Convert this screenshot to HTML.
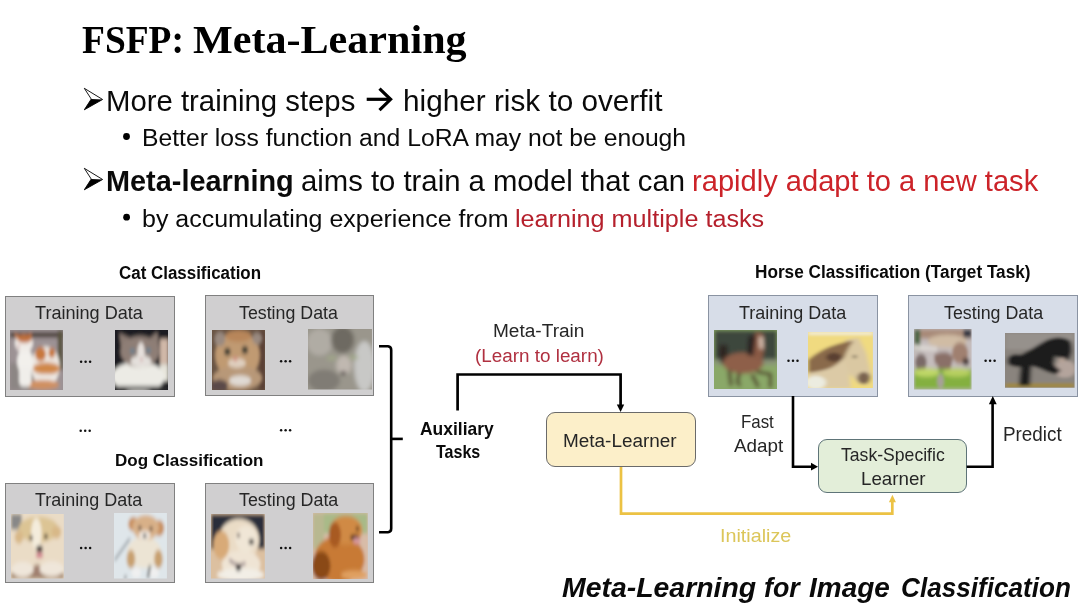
<!DOCTYPE html>
<html><head><meta charset="utf-8"><style>
html,body{margin:0;padding:0;}
body{width:1080px;height:604px;overflow:hidden;background:#fff;position:relative;}
.t{position:absolute;white-space:nowrap;line-height:1;transform-origin:0 0;}
.box{position:absolute;box-sizing:border-box;}
svg{position:absolute;left:0;top:0;}
</style></head><body>

<div class="box" style="left:5px;top:296.1px;width:170px;height:101.09999999999997px;background:#d0cfd0;border:1.5px solid #808080;border-radius:0px"></div>
<div class="box" style="left:205.1px;top:295.4px;width:169.00000000000003px;height:101.0px;background:#d0cfd0;border:1.5px solid #808080;border-radius:0px"></div>
<div class="box" style="left:5px;top:482.5px;width:170px;height:100.39999999999998px;background:#d0cfd0;border:1.5px solid #808080;border-radius:0px"></div>
<div class="box" style="left:205px;top:482.5px;width:169px;height:100.39999999999998px;background:#d0cfd0;border:1.5px solid #808080;border-radius:0px"></div>
<div class="box" style="left:707.9px;top:295.2px;width:170.30000000000007px;height:101.40000000000003px;background:#d7dde8;border:1.5px solid #8a93a2;border-radius:0px"></div>
<div class="box" style="left:908.2px;top:295.2px;width:170.0999999999999px;height:101.40000000000003px;background:#d7dde8;border:1.5px solid #8a93a2;border-radius:0px"></div>
<div class="box" style="left:546.2px;top:411.5px;width:149.39999999999998px;height:55.69999999999999px;background:#fcefc9;border:1.7px solid #6a6a6a;border-radius:9px"></div>
<div class="box" style="left:818.4px;top:438.7px;width:148.60000000000002px;height:54.69999999999999px;background:#e3eed9;border:1.7px solid #5e7478;border-radius:9px"></div>
<svg style="left:9.9px;top:329.6px;width:53.6px;height:60.3px" viewBox="0 0 100 100" preserveAspectRatio="none"><defs><filter id="f_cat1" x="-20%" y="-20%" width="140%" height="140%"><feGaussianBlur stdDeviation="3.2"/></filter><clipPath id="c_cat1"><rect width="100" height="100"/></clipPath></defs><g clip-path="url(#c_cat1)"><g filter="url(#f_cat1)">
<rect x="-15" y="-15" width="130" height="130" fill="#9c9294"/>
<rect y="55" width="45" height="45" fill="#8c8684"/>
<rect y="4" width="100" height="8" fill="#3e3028"/>
<rect x="89" y="0" width="10" height="66" fill="#5a5540"/>
<ellipse cx="66" cy="60" rx="27" ry="33" fill="#ece6e0"/>
<ellipse cx="57" cy="40" rx="10" ry="12" fill="#c8783c"/>
<ellipse cx="78" cy="38" rx="6" ry="8" fill="#c8783c"/>
<ellipse cx="68" cy="64" rx="25" ry="10" fill="#d08848"/>
<ellipse cx="67" cy="80" rx="21" ry="7" fill="#eeeae6"/>
<ellipse cx="61" cy="91" rx="31" ry="8" fill="#d09060"/>
<ellipse cx="28" cy="52" rx="15" ry="22" fill="#f2f0ec"/>
<rect x="17" y="62" width="23" height="32" rx="8" fill="#f0eeea"/>
<path d="M7,4 L19,10 L14,20 Z" fill="#c87840"/>
<path d="M41,4 L29,10 L38,20 Z" fill="#c87840"/>
<ellipse cx="26" cy="22" rx="17" ry="15" fill="#f0ece8"/>
<ellipse cx="27" cy="14" rx="14" ry="7" fill="#c0703c"/>
<ellipse cx="16" cy="27" rx="3" ry="2" fill="#d0a0a0"/>
</g></g></svg>
<svg style="left:114.9px;top:329.9px;width:53.0px;height:60.0px" viewBox="0 0 100 100" preserveAspectRatio="none"><defs><filter id="f_cat2" x="-20%" y="-20%" width="140%" height="140%"><feGaussianBlur stdDeviation="3.2"/></filter><clipPath id="c_cat2"><rect width="100" height="100"/></clipPath></defs><g clip-path="url(#c_cat2)"><g filter="url(#f_cat2)">
<rect x="-15" y="-15" width="130" height="130" fill="#1e1e22"/>
<rect x="85" y="15" width="15" height="42" fill="#d0b8a8"/>
<rect x="85" y="57" width="15" height="28" fill="#e6e4da"/>
<ellipse cx="44" cy="78" rx="50" ry="26" fill="#ecebe5"/>
<path d="M8,5 L34,16 L13,38 Z" fill="#8a7a72"/>
<path d="M80,3 L60,18 L84,34 Z" fill="#8a7a72"/>
<ellipse cx="47" cy="36" rx="37" ry="26" fill="#8e7e76"/>
<ellipse cx="49" cy="38" rx="7" ry="18" fill="#e6e0dc"/>
<ellipse cx="49" cy="52" rx="20" ry="10" fill="#e4e0dc"/>
<ellipse cx="33" cy="35" rx="5" ry="4" fill="#6a8090"/>
<ellipse cx="63" cy="34" rx="5" ry="4" fill="#6a8090"/>
<ellipse cx="50" cy="49" rx="3" ry="2.5" fill="#d0a0a0"/>
<rect y="94" width="100" height="6" fill="#303030"/>
</g></g></svg>
<svg style="left:212.2px;top:329.6px;width:53.1px;height:60.3px" viewBox="0 0 100 100" preserveAspectRatio="none"><defs><filter id="f_cat3" x="-20%" y="-20%" width="140%" height="140%"><feGaussianBlur stdDeviation="3.2"/></filter><clipPath id="c_cat3"><rect width="100" height="100"/></clipPath></defs><g clip-path="url(#c_cat3)"><g filter="url(#f_cat3)">
<rect x="-15" y="-15" width="130" height="130" fill="#6a5444"/>
<rect x="89" width="11" height="100" fill="#5a4034"/>
<ellipse cx="48" cy="42" rx="42" ry="40" fill="#c09a72"/>
<ellipse cx="50" cy="10" rx="24" ry="10" fill="#b8865a"/>
<ellipse cx="15" cy="15" rx="10" ry="12" fill="#9a8a80"/>
<ellipse cx="85" cy="14" rx="9" ry="10" fill="#9a8a80"/>
<ellipse cx="48" cy="80" rx="46" ry="20" fill="#b89878"/>
<circle cx="29" cy="36" r="6" fill="#3a3a30"/>
<circle cx="62" cy="33" r="6" fill="#3a3a30"/>
<ellipse cx="47" cy="55" rx="17" ry="8" fill="#e0d0c0"/>
<ellipse cx="44" cy="48" rx="4.5" ry="4" fill="#d09080"/>
<ellipse cx="53" cy="84" rx="21" ry="9" fill="#e0dad4"/>
<ellipse cx="14" cy="92" rx="16" ry="10" fill="#5a4a48"/>
</g></g></svg>
<svg style="left:308px;top:329.4px;width:64.1px;height:60.5px" viewBox="0 0 100 100" preserveAspectRatio="none"><defs><filter id="f_cat4" x="-20%" y="-20%" width="140%" height="140%"><feGaussianBlur stdDeviation="3.2"/></filter><clipPath id="c_cat4"><rect width="100" height="100"/></clipPath></defs><g clip-path="url(#c_cat4)"><g filter="url(#f_cat4)">
<rect x="-15" y="-15" width="130" height="130" fill="#9a968c"/>
<ellipse cx="18" cy="22" rx="20" ry="22" fill="#b0aca4"/>
<ellipse cx="88" cy="62" rx="16" ry="42" fill="#c8c8c6"/>
<ellipse cx="54" cy="18" rx="18" ry="22" fill="#6e6a62"/>
<ellipse cx="56" cy="60" rx="12" ry="16" fill="#c0b8b0"/>
<ellipse cx="37" cy="48" rx="8" ry="3.5" fill="#a0a888"/>
<ellipse cx="71" cy="47" rx="7" ry="3.5" fill="#a0a888"/>
<ellipse cx="55" cy="73" rx="4" ry="3.5" fill="#403838"/>
<ellipse cx="25" cy="85" rx="25" ry="18" fill="#807c74"/>
</g></g></svg>
<svg style="left:11.1px;top:514.1px;width:52.8px;height:64.6px" viewBox="0 0 100 100" preserveAspectRatio="none"><defs><filter id="f_dog1" x="-20%" y="-20%" width="140%" height="140%"><feGaussianBlur stdDeviation="3.2"/></filter><clipPath id="c_dog1"><rect width="100" height="100"/></clipPath></defs><g clip-path="url(#c_dog1)"><g filter="url(#f_dog1)">
<rect x="-15" y="-15" width="130" height="130" fill="#eadcc6"/>
<rect width="20" height="24" fill="#888888"/>
<ellipse cx="52" cy="24" rx="38" ry="20" fill="#dcc494"/>
<ellipse cx="15" cy="36" rx="8" ry="10" fill="#d8b888"/>
<ellipse cx="86" cy="28" rx="9" ry="10" fill="#d8b888"/>
<ellipse cx="48" cy="30" rx="10" ry="24" fill="#f4ecdc"/>
<circle cx="38" cy="37" r="3.5" fill="#2a2020"/>
<circle cx="66" cy="35" r="3.5" fill="#2a2020"/>
<ellipse cx="54" cy="54" rx="6" ry="5" fill="#201818"/>
<ellipse cx="54" cy="64" rx="7" ry="4" fill="#d07888"/>
<rect y="92" width="100" height="8" fill="#9a7a60"/>
<ellipse cx="50" cy="88" rx="10" ry="10" fill="#a08070"/>
<ellipse cx="22" cy="86" rx="21" ry="12" fill="#efe6da"/>
<ellipse cx="77" cy="85" rx="23" ry="12" fill="#efe6da"/>
</g></g></svg>
<svg style="left:113.7px;top:513.1px;width:52.9px;height:65.6px" viewBox="0 0 100 100" preserveAspectRatio="none"><defs><filter id="f_dog2" x="-20%" y="-20%" width="140%" height="140%"><feGaussianBlur stdDeviation="3.2"/></filter><clipPath id="c_dog2"><rect width="100" height="100"/></clipPath></defs><g clip-path="url(#c_dog2)"><g filter="url(#f_dog2)">
<rect x="-15" y="-15" width="130" height="130" fill="#dfe6ea"/>
<path d="M30,39 L1,72" stroke="#606870" stroke-width="2.5"/>
<ellipse cx="37" cy="17" rx="10" ry="11" fill="#c89060"/>
<ellipse cx="85" cy="23" rx="10" ry="12" fill="#c89060"/>
<ellipse cx="57" cy="60" rx="32" ry="24" fill="#ece4d4"/>
<ellipse cx="32" cy="70" rx="8" ry="14" fill="#c8a070"/>
<ellipse cx="84" cy="70" rx="8" ry="14" fill="#c8a070"/>
<ellipse cx="60" cy="22" rx="25" ry="19" fill="#d8b088"/>
<ellipse cx="58" cy="34" rx="11" ry="7" fill="#efe8e0"/>
<circle cx="49" cy="23" r="3" fill="#302020"/>
<circle cx="70" cy="24" r="3" fill="#302020"/>
<circle cx="58" cy="35" r="3.2" fill="#202020"/>
<ellipse cx="42" cy="91" rx="9" ry="8" fill="#f0f0f0"/>
<ellipse cx="76" cy="91" rx="9" ry="8" fill="#f0f0f0"/>
<path d="M68,80 L64,99" stroke="#202020" stroke-width="3"/>
<path d="M23,96 L20,100" stroke="#202020" stroke-width="3"/>
</g></g></svg>
<svg style="left:211.1px;top:514.1px;width:53.8px;height:64.6px" viewBox="0 0 100 100" preserveAspectRatio="none"><defs><filter id="f_dog3" x="-20%" y="-20%" width="140%" height="140%"><feGaussianBlur stdDeviation="3.2"/></filter><clipPath id="c_dog3"><rect width="100" height="100"/></clipPath></defs><g clip-path="url(#c_dog3)"><g filter="url(#f_dog3)">
<rect x="-15" y="-15" width="130" height="130" fill="#dcc0a0"/>
<rect width="100" height="54" fill="#2a2e3a"/>
<ellipse cx="52" cy="40" rx="38" ry="33" fill="#eadcc6"/>
<ellipse cx="56" cy="78" rx="36" ry="22" fill="#efe4d4"/>
<ellipse cx="19" cy="48" rx="15" ry="22" fill="#d8aa78"/>
<ellipse cx="65" cy="38" rx="20" ry="20" fill="#f0e6d6"/>
<circle cx="51" cy="33" r="3" fill="#402a20"/>
<ellipse cx="75" cy="43" rx="5" ry="4" fill="#181818"/>
<ellipse cx="55" cy="94" rx="44" ry="10" fill="#f2eee6"/>
<path d="M34,71 Q50,84 64,76" stroke="#503050" stroke-width="3" fill="none"/>
<circle cx="51" cy="83" r="5" fill="#202020"/>
</g></g></svg>
<svg style="left:313px;top:512.8px;width:54.8px;height:66.0px" viewBox="0 0 100 100" preserveAspectRatio="none"><defs><filter id="f_dog4" x="-20%" y="-20%" width="140%" height="140%"><feGaussianBlur stdDeviation="3.2"/></filter><clipPath id="c_dog4"><rect width="100" height="100"/></clipPath></defs><g clip-path="url(#c_dog4)"><g filter="url(#f_dog4)">
<rect x="-15" y="-15" width="130" height="130" fill="#d8bca8"/>
<rect width="100" height="31" fill="#a8ba88"/>
<rect width="20" height="55" fill="#b8b890"/>
<ellipse cx="48" cy="70" rx="46" ry="36" fill="#c87a34"/>
<ellipse cx="60" cy="26" rx="30" ry="22" fill="#d08a44"/>
<ellipse cx="40" cy="33" rx="11" ry="19" fill="#a85a24"/>
<ellipse cx="76" cy="37" rx="8" ry="4" fill="#3a1a10"/>
<ellipse cx="80" cy="42" rx="7" ry="5" fill="#d89aa0"/>
<circle cx="81" cy="24" r="3" fill="#2a1a10"/>
<ellipse cx="15" cy="80" rx="17" ry="22" fill="#8a4818"/>
<ellipse cx="75" cy="94" rx="24" ry="7" fill="#e0a060"/>
</g></g></svg>
<svg style="left:713.6px;top:329.9px;width:63.4px;height:58.9px" viewBox="0 0 100 100" preserveAspectRatio="none"><defs><filter id="f_hor1" x="-20%" y="-20%" width="140%" height="140%"><feGaussianBlur stdDeviation="3.2"/></filter><clipPath id="c_hor1"><rect width="100" height="100"/></clipPath></defs><g clip-path="url(#c_hor1)"><g filter="url(#f_hor1)">
<rect x="-15" y="-15" width="130" height="130" fill="#8aa868"/>
<rect width="100" height="52" fill="#3c463e"/>
<rect y="50" width="100" height="10" fill="#8a9478"/>
<path d="M12,58 Q4,40 10,24 L22,26 Q20,42 26,54 Z" fill="#2e2622"/>
<ellipse cx="46" cy="56" rx="32" ry="18" fill="#8e5e48"/>
<path d="M52,42 L60,10 L68,3 L78,7 L79,32 L76,51 Z" fill="#8a5a44"/>
<path d="M71,12 L77,12 L78,32 L72,32 Z" fill="#e0c8b8"/>
<path d="M54,10 L66,8 L62,44 L52,42 Z" fill="#2a2420"/>
<path d="M24,68 L27,95" stroke="#4a3020" stroke-width="5" fill="none"/>
<path d="M40,73 L37,88 L41,95" stroke="#4a3020" stroke-width="5" fill="none"/>
<path d="M67,71 L89,75 L89,98" stroke="#4a3020" stroke-width="5" fill="none"/>
<path d="M60,76 L70,97" stroke="#4a3020" stroke-width="5" fill="none"/>
</g></g></svg>
<svg style="left:807.8px;top:332px;width:64.9px;height:56.2px" viewBox="0 0 100 100" preserveAspectRatio="none"><defs><filter id="f_hor2" x="-20%" y="-20%" width="140%" height="140%"><feGaussianBlur stdDeviation="3.2"/></filter><clipPath id="c_hor2"><rect width="100" height="100"/></clipPath></defs><g clip-path="url(#c_hor2)"><g filter="url(#f_hor2)">
<rect x="-15" y="-15" width="130" height="130" fill="#f0da80"/>
<rect width="100" height="5" fill="#f2eedc"/>
<path d="M0,55 L35,40 L62,45 L66,100 L0,100 Z" fill="#dccaa6"/>
<ellipse cx="12" cy="90" rx="16" ry="12" fill="#ecece0"/>
<path d="M58,14 L78,10 L90,38 L98,78 L92,94 L78,92 L64,74 L54,40 Z" fill="#dac8a2"/>
<path d="M0,50 Q20,30 45,22 Q62,15 70,16 Q60,30 56,45 Q45,60 30,66 Q12,72 0,72 Z" fill="#8a6a4c"/>
<ellipse cx="40" cy="45" rx="12" ry="8" fill="#5a4030"/>
<ellipse cx="86" cy="82" rx="10" ry="11" fill="#7a6450"/>
<circle cx="72" cy="44" r="2.5" fill="#302820"/>
</g></g></svg>
<svg style="left:914.4px;top:329.4px;width:57.6px;height:60.5px" viewBox="0 0 100 100" preserveAspectRatio="none"><defs><filter id="f_hor3" x="-20%" y="-20%" width="140%" height="140%"><feGaussianBlur stdDeviation="3.2"/></filter><clipPath id="c_hor3"><rect width="100" height="100"/></clipPath></defs><g clip-path="url(#c_hor3)"><g filter="url(#f_hor3)">
<rect x="-15" y="-15" width="130" height="130" fill="#c4bcbc"/>
<rect width="100" height="16" fill="#a88a78"/>
<rect width="11" height="35" fill="#506848"/>
<rect x="86" width="14" height="14" fill="#303440"/>
<ellipse cx="58" cy="20" rx="34" ry="11" fill="#d0bca4"/>
<path d="M0,26 L40,30 L40,36 L0,34 Z" fill="#e0dcd8"/>
<ellipse cx="12" cy="55" rx="10" ry="14" fill="#7a6a68"/>
<ellipse cx="80" cy="40" rx="14" ry="18" fill="#a08070"/>
<ellipse cx="90" cy="54" rx="6" ry="6" fill="#4a3a38"/>
<path d="M35,42 Q60,32 68,48 L58,86 L44,86 Q48,62 36,56 Z" fill="#8a7068"/>
<rect y="66" width="100" height="34" fill="#84b040"/>
<ellipse cx="22" cy="72" rx="22" ry="7" fill="#c0d868"/>
<ellipse cx="74" cy="72" rx="24" ry="7" fill="#b8d060"/>
<ellipse cx="46" cy="86" rx="6" ry="12" fill="#a8a09a"/>
</g></g></svg>
<svg style="left:1005.2px;top:332.9px;width:69.6px;height:54.7px" viewBox="0 0 100 100" preserveAspectRatio="none"><defs><filter id="f_hor4" x="-20%" y="-20%" width="140%" height="140%"><feGaussianBlur stdDeviation="3.2"/></filter><clipPath id="c_hor4"><rect width="100" height="100"/></clipPath></defs><g clip-path="url(#c_hor4)"><g filter="url(#f_hor4)">
<rect x="-15" y="-15" width="130" height="130" fill="#8a847e"/>
<rect width="100" height="30" fill="#96918c"/>
<ellipse cx="86" cy="66" rx="16" ry="16" fill="#b4a49c"/>
<rect y="92" width="100" height="8" fill="#a08840"/>
<path d="M4,46 Q10,36 22,40 L40,28 Q55,16 62,12 Q80,4 94,14 Q100,30 92,48 L84,52 Q78,45 72,42 L70,56 Q74,64 80,68 L74,76 Q60,72 52,66 L38,60 L36,96 L20,96 L22,62 Q10,62 4,56 Z" fill="#1c1c1c"/>
<ellipse cx="82" cy="50" rx="5" ry="5" fill="#b8a498"/>
</g></g></svg>
<svg width="1080" height="604" viewBox="0 0 1080 604">
<path d="M379,346.2 H388 Q391.2,346.6 391.2,350 V528.5 Q391.2,532 388,532.2 H379" fill="none" stroke="#000" stroke-width="2.6"/>
<path d="M391.2,438.9 H402.8" fill="none" stroke="#000" stroke-width="2.6"/>
<path d="M457.6,410.4 V374.5 H620.6 V405" fill="none" stroke="#000" stroke-width="2.7"/>
<path d="M616.8,404.6 L624.2,404.6 L620.6,412 Z" fill="#000"/>
<path d="M793,396 V466.7 H811.5" fill="none" stroke="#000" stroke-width="2.6"/>
<path d="M811,462.8 L818,466.7 L811,470.4 Z" fill="#000"/>
<path d="M966.7,466.7 H992.6 V403.5" fill="none" stroke="#000" stroke-width="2.6"/>
<path d="M988.9,404.2 L996.7,404.2 L992.8,396 Z" fill="#000"/>
<path d="M621,467 V513.6 H892.3 V501.5" fill="none" stroke="#ecc244" stroke-width="2.7"/>
<path d="M888.9,502.2 L895.9,502.2 L892.4,494.8 Z" fill="#ecc244"/>

<path d="M84.3,88.3 L102.6,99.47999999999999 L84.3,109.8 L91.25399999999999,99.05 Z" fill="#fff" stroke="#000" stroke-width="0.9" stroke-linejoin="miter"/>
<path d="M102.6,99.47999999999999 L84.3,109.8 L91.25399999999999,99.05 Z" fill="#000"/>
<path d="M84.3,168.3 L102.6,179.48000000000002 L84.3,189.8 L91.25399999999999,179.05 Z" fill="#fff" stroke="#000" stroke-width="0.9" stroke-linejoin="miter"/>
<path d="M102.6,179.48000000000002 L84.3,189.8 L91.25399999999999,179.05 Z" fill="#000"/>
<path d="M366.7,99.3 H390" fill="none" stroke="#000" stroke-width="3.2"/>
<path d="M379.5,88.6 L390.6,99.3 L379.5,110.2" fill="none" stroke="#000" stroke-width="3.2" stroke-linejoin="miter"/>
<circle cx="126.5" cy="136.5" r="3.4" fill="#000"/>
<circle cx="126.6" cy="217.2" r="3.4" fill="#000"/>
<circle cx="81.1" cy="361.8" r="1.25" fill="#111"/>
<circle cx="85.6" cy="361.8" r="1.25" fill="#111"/>
<circle cx="90.1" cy="361.8" r="1.25" fill="#111"/>
<circle cx="281.1" cy="361.2" r="1.25" fill="#111"/>
<circle cx="285.6" cy="361.2" r="1.25" fill="#111"/>
<circle cx="290.1" cy="361.2" r="1.25" fill="#111"/>
<circle cx="80.7" cy="430.8" r="1.25" fill="#111"/>
<circle cx="85.2" cy="430.8" r="1.25" fill="#111"/>
<circle cx="89.7" cy="430.8" r="1.25" fill="#111"/>
<circle cx="281.1" cy="430.3" r="1.25" fill="#111"/>
<circle cx="285.6" cy="430.3" r="1.25" fill="#111"/>
<circle cx="290.1" cy="430.3" r="1.25" fill="#111"/>
<circle cx="81.1" cy="547.9" r="1.25" fill="#111"/>
<circle cx="85.6" cy="547.9" r="1.25" fill="#111"/>
<circle cx="90.1" cy="547.9" r="1.25" fill="#111"/>
<circle cx="281.1" cy="547.9" r="1.25" fill="#111"/>
<circle cx="285.6" cy="547.9" r="1.25" fill="#111"/>
<circle cx="290.1" cy="547.9" r="1.25" fill="#111"/>
<circle cx="788.5" cy="360.8" r="1.25" fill="#111"/>
<circle cx="793.0" cy="360.8" r="1.25" fill="#111"/>
<circle cx="797.5" cy="360.8" r="1.25" fill="#111"/>
<circle cx="985.6" cy="360.8" r="1.25" fill="#111"/>
<circle cx="990.1" cy="360.8" r="1.25" fill="#111"/>
<circle cx="994.6" cy="360.8" r="1.25" fill="#111"/>
</svg>
<div class="t" style="left:82.44px;top:18.91px;font-family:'Liberation Serif', serif;font-weight:bold;font-style:normal;font-size:41.07px;color:#000;transform:scaleX(0.9125)">FSFP:</div>
<div class="t" style="left:193.37px;top:18.91px;font-family:'Liberation Serif', serif;font-weight:bold;font-style:normal;font-size:41.07px;color:#000;transform:scaleX(1.0255)">Meta-Learning</div>
<div class="t" style="left:106.15px;top:86.68px;font-family:'Liberation Sans', sans-serif;font-weight:normal;font-style:normal;font-size:29.13px;color:#0a0a0a;transform:scaleX(1.0067)">More training steps</div>
<div class="t" style="left:402.72px;top:86.68px;font-family:'Liberation Sans', sans-serif;font-weight:normal;font-style:normal;font-size:29.13px;color:#0a0a0a;transform:scaleX(1.0207)">higher risk to overfit</div>
<div class="t" style="left:141.92px;top:125.78px;font-family:'Liberation Sans', sans-serif;font-weight:normal;font-style:normal;font-size:24.64px;color:#0a0a0a;transform:scaleX(1.0037)">Better loss function and LoRA may not be enough</div>
<div class="t" style="left:106.32px;top:166.32px;font-family:'Liberation Sans', sans-serif;font-weight:bold;font-style:normal;font-size:29.57px;color:#0a0a0a;transform:scaleX(0.9770)">Meta-learning</div>
<div class="t" style="left:301.08px;top:166.32px;font-family:'Liberation Sans', sans-serif;font-weight:normal;font-style:normal;font-size:29.57px;color:#0a0a0a;transform:scaleX(0.9901)">aims to train a model that can</div>
<div class="t" style="left:692.41px;top:166.32px;font-family:'Liberation Sans', sans-serif;font-weight:normal;font-style:normal;font-size:29.57px;color:#cc2329;transform:scaleX(0.9844)">rapidly adapt to a new task</div>
<div class="t" style="left:142.38px;top:206.58px;font-family:'Liberation Sans', sans-serif;font-weight:normal;font-style:normal;font-size:24.64px;color:#0a0a0a;transform:scaleX(1.0141)">by accumulating experience from</div>
<div class="t" style="left:514.66px;top:206.58px;font-family:'Liberation Sans', sans-serif;font-weight:normal;font-style:normal;font-size:24.64px;color:#b5202c;transform:scaleX(1.0228)">learning multiple tasks</div>
<div class="t" style="left:118.52px;top:265.26px;font-family:'Liberation Sans', sans-serif;font-weight:bold;font-style:normal;font-size:17.68px;color:#0a0a0a;transform:scaleX(0.9579)">Cat Classification</div>
<div class="t" style="left:115.09px;top:451.80px;font-family:'Liberation Sans', sans-serif;font-weight:bold;font-style:normal;font-size:17.39px;color:#0a0a0a;transform:scaleX(0.9794)">Dog Classification</div>
<div class="t" style="left:755.48px;top:263.19px;font-family:'Liberation Sans', sans-serif;font-weight:bold;font-style:normal;font-size:18.12px;color:#0a0a0a;transform:scaleX(0.9496)">Horse Classification (Target Task)</div>
<div class="t" style="left:34.85px;top:304.47px;font-family:'Liberation Sans', sans-serif;font-weight:normal;font-style:normal;font-size:18.26px;color:#262626;transform:scaleX(0.9911)">Training Data</div>
<div class="t" style="left:238.96px;top:304.47px;font-family:'Liberation Sans', sans-serif;font-weight:normal;font-style:normal;font-size:18.26px;color:#262626;transform:scaleX(0.9745)">Testing Data</div>
<div class="t" style="left:35.35px;top:490.69px;font-family:'Liberation Sans', sans-serif;font-weight:normal;font-style:normal;font-size:18.12px;color:#262626;transform:scaleX(0.9916)">Training Data</div>
<div class="t" style="left:238.75px;top:490.69px;font-family:'Liberation Sans', sans-serif;font-weight:normal;font-style:normal;font-size:18.12px;color:#262626;transform:scaleX(0.9863)">Testing Data</div>
<div class="t" style="left:739.35px;top:304.27px;font-family:'Liberation Sans', sans-serif;font-weight:normal;font-style:normal;font-size:18.26px;color:#262626;transform:scaleX(0.9846)">Training Data</div>
<div class="t" style="left:943.55px;top:304.27px;font-family:'Liberation Sans', sans-serif;font-weight:normal;font-style:normal;font-size:18.26px;color:#262626;transform:scaleX(0.9765)">Testing Data</div>
<div class="t" style="left:420.46px;top:418.61px;font-family:'Liberation Sans', sans-serif;font-weight:bold;font-style:normal;font-size:19.28px;color:#0a0a0a;transform:scaleX(0.9051)">Auxiliary</div>
<div class="t" style="left:436.34px;top:442.98px;font-family:'Liberation Sans', sans-serif;font-weight:bold;font-style:normal;font-size:18.84px;color:#0a0a0a;transform:scaleX(0.8520)">Tasks</div>
<div class="t" style="left:493.38px;top:322.35px;font-family:'Liberation Sans', sans-serif;font-weight:normal;font-style:normal;font-size:18.41px;color:#262626;transform:scaleX(1.0352)">Meta-Train</div>
<div class="t" style="left:474.87px;top:347.05px;font-family:'Liberation Sans', sans-serif;font-weight:normal;font-style:normal;font-size:18.41px;color:#b03040;transform:scaleX(1.0243)">(Learn to learn)</div>
<div class="t" style="left:563.09px;top:431.55px;font-family:'Liberation Sans', sans-serif;font-weight:normal;font-style:normal;font-size:18.41px;color:#262626;transform:scaleX(1.0286)">Meta-Learner</div>
<div class="t" style="left:741.25px;top:412.68px;font-family:'Liberation Sans', sans-serif;font-weight:normal;font-style:normal;font-size:18.84px;color:#262626;transform:scaleX(0.8960)">Fast</div>
<div class="t" style="left:733.91px;top:436.68px;font-family:'Liberation Sans', sans-serif;font-weight:normal;font-style:normal;font-size:18.84px;color:#262626;transform:scaleX(1.0003)">Adapt</div>
<div class="t" style="left:841.06px;top:446.18px;font-family:'Liberation Sans', sans-serif;font-weight:normal;font-style:normal;font-size:18.84px;color:#262626;transform:scaleX(0.9352)">Task-Specific</div>
<div class="t" style="left:860.50px;top:470.28px;font-family:'Liberation Sans', sans-serif;font-weight:normal;font-style:normal;font-size:18.84px;color:#262626;transform:scaleX(0.9950)">Learner</div>
<div class="t" style="left:1002.69px;top:424.79px;font-family:'Liberation Sans', sans-serif;font-weight:normal;font-style:normal;font-size:19.42px;color:#262626;transform:scaleX(0.9720)">Predict</div>
<div class="t" style="left:720.22px;top:526.72px;font-family:'Liberation Sans', sans-serif;font-weight:normal;font-style:normal;font-size:18.55px;color:#dcc65a;transform:scaleX(1.0642)">Initialize</div>
<div class="t" style="left:562.03px;top:574.21px;font-family:'Liberation Sans', sans-serif;font-weight:bold;font-style:italic;font-size:27.68px;color:#0a0a0a;transform:scaleX(1.0266)">Meta-Learning</div>
<div class="t" style="left:764.06px;top:574.21px;font-family:'Liberation Sans', sans-serif;font-weight:bold;font-style:italic;font-size:27.68px;color:#0a0a0a;transform:scaleX(0.9705)">for</div>
<div class="t" style="left:808.74px;top:574.21px;font-family:'Liberation Sans', sans-serif;font-weight:bold;font-style:italic;font-size:27.68px;color:#0a0a0a;transform:scaleX(1.0113)">Image</div>
<div class="t" style="left:900.89px;top:574.21px;font-family:'Liberation Sans', sans-serif;font-weight:bold;font-style:italic;font-size:27.68px;color:#0a0a0a;transform:scaleX(0.9446)">Classification</div>
</body></html>
